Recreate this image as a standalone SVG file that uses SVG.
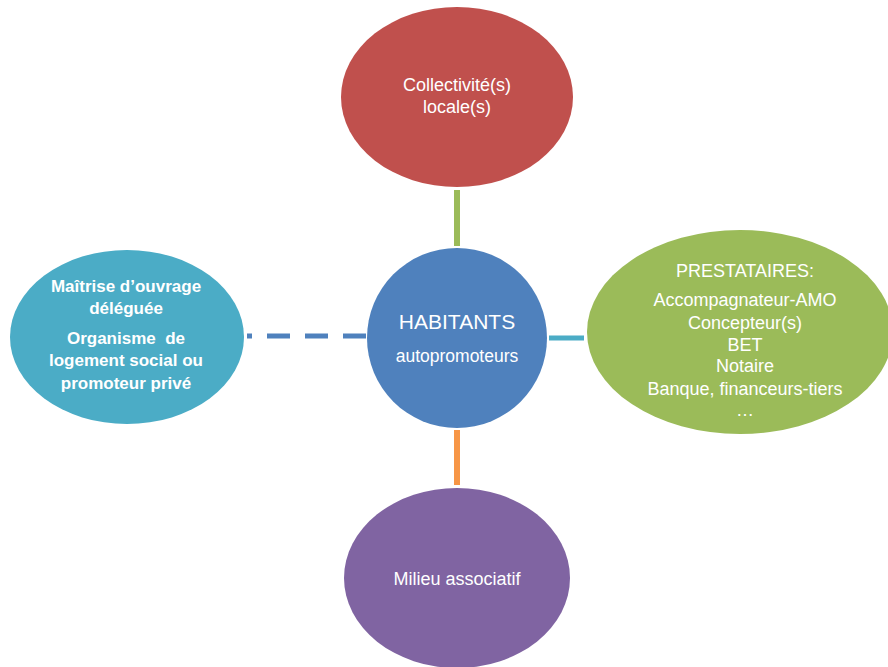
<svg xmlns="http://www.w3.org/2000/svg" width="888" height="667" viewBox="0 0 888 667">
<style>
text{font-family:"Liberation Sans",Arial,sans-serif;fill:#fff;text-anchor:middle}
.t{font-size:18px}
.b{font-size:17px;font-weight:bold;white-space:pre}
</style>
<rect width="888" height="667" fill="#fff"/>
<g id="connectors">
<line x1="457" y1="190" x2="457" y2="246" stroke="#9BBB59" stroke-width="6"/>
<line x1="247" y1="336" x2="366" y2="336" stroke="#4F81BD" stroke-width="5" stroke-dasharray="5 15 23 15 23 15 23 15"/>
<line x1="549" y1="338" x2="584" y2="338" stroke="#4BACC6" stroke-width="5"/>
<line x1="457" y1="430" x2="457" y2="485" stroke="#F79646" stroke-width="6"/>
</g>
<g id="collectivites">
<ellipse cx="457" cy="97" rx="116" ry="90" fill="#C0504D"/>
<text class="t" x="457" y="91">Collectivité(s)</text>
<text class="t" x="457" y="113">locale(s)</text>
</g>
<g id="maitrise">
<ellipse cx="127" cy="337" rx="117" ry="87" fill="#4BACC6"/>
<text class="b" x="126" y="292">Maîtrise d’ouvrage</text>
<text class="b" x="126" y="314">déléguée</text>
<text class="b" x="126" y="344" xml:space="preserve">Organisme  de</text>
<text class="b" x="126" y="366">logement social ou</text>
<text class="b" x="126" y="389">promoteur privé</text>
</g>
<g id="habitants">
<circle cx="457" cy="338" r="90" fill="#4F81BD"/>
<text x="457" y="329" style="font-size:21px">HABITANTS</text>
<text x="457" y="362" style="font-size:17.5px">autopromoteurs</text>
</g>
<g id="prestataires">
<ellipse cx="740" cy="332" rx="153" ry="102" fill="#9BBB59"/>
<text class="t" x="745" y="277">PRESTATAIRES:</text>
<text class="t" x="745" y="306">Accompagnateur-AMO</text>
<text class="t" x="745" y="329">Concepteur(s)</text>
<text class="t" x="745" y="351">BET</text>
<text class="t" x="745" y="372">Notaire</text>
<text class="t" x="745" y="395">Banque, financeurs-tiers</text>
<text class="t" x="745" y="416">…</text>
</g>
<g id="milieu">
<ellipse cx="457" cy="578" rx="113" ry="90" fill="#8064A2"/>
<text class="t" x="457" y="585">Milieu associatif</text>
</g>
</svg>
